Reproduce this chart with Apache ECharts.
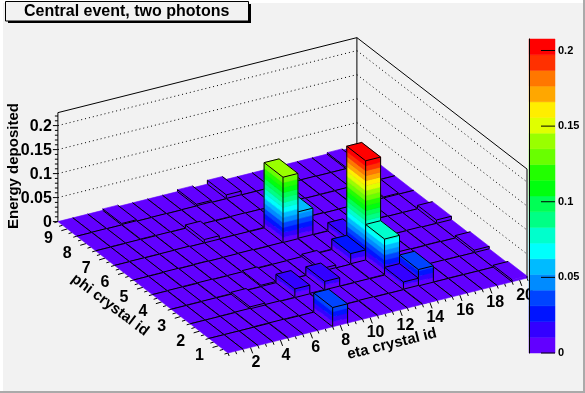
<!DOCTYPE html>
<html>
<head>
<meta charset="utf-8">
<title>Central event, two photons</title>
<style>
  html, body { margin: 0; padding: 0; background: #f2f2f2; }
  #chart { width: 585px; height: 393px; }
</style>
<script src="https://cdn.jsdelivr.net/npm/echarts@6/dist/echarts.min.js"></script>
</head>
<body>
<div id="chart"></div>
<script>
// energy per crystal, one row per phi id, one column per eta id (1..20)
const phi1 = [0, 0, 0, 0, 0.001, 0, 0, 0.04, 0, 0, 0.001, 0, 0, 0.001, 0, 0, 0, 0, 0, 0.004];
const phi2 = [0, 0, 0, 0.001, 0, 0.001, 0, 0, 0.001, 0.0005, 0, 0.0005, 0, 0.016, 0.034, 0, 0.0005, 0, 0, 0];
const phi3 = [0, 0, 0.0005, 0, 0.004, 0, 0.0005, 0.018, 0, 0.018, 0.0005, 0, 0.001, 0.075, 0.0005, 0.001, 0, 0.0005, 0, 0.005];
const phi4 = [0, 0.0005, 0, 0.001, 0, 0.0005, 0.003, 0, 0.0005, 0.001, 0.006, 0, 0.022, 0.2076, 0.001, 0, 0.0005, 0.001, 0, 0];
const phi5 = [0, 0, 0.001, 0, 0.0005, 0, 0.0005, 0.001, 0, 0.0005, 0, 0.001, 0.0005, 0.018, 0, 0.001, 0.0005, 0, 0, 0.007];
const phi6 = [0, 0.0005, 0, 0.0005, 0.001, 0, 0, 0.0005, 0.0005, 0, 0.136, 0.056, 0.001, 0.0005, 0, 0.0005, 0.001, 0, 0, 0];
const phi7 = [0, 0, 0.0005, 0, 0.0005, 0, 0.007, 0.0005, 0, 0.001, 0.0005, 0, 0.0005, 0.001, 0, 0, 0.0005, 0, 0.002, 0];
const phi8 = [0, 0.0005, 0, 0.001, 0, 0.0005, 0, 0.0005, 0.001, 0, 0.0005, 0, 0, 0.0005, 0, 0.0005, 0, 0, 0, 0];
const phi9 = [0, 0, 0, 0.003, 0, 0, 0, 0, 0.004, 0, 0.008, 0, 0, 0, 0, 0, 0, 0, 0.003, 0];
const energyRows = [phi1, phi2, phi3, phi4, phi5, phi6, phi7, phi8, phi9];

const zTicks = [0, 0.05, 0.1, 0.15, 0.2];
const zTickLabels = ['0', '0.05', '0.1', '0.15', '0.2'];
const etaTicks = [2, 4, 6, 8, 10, 12, 14, 16, 18, 20];
const phiTicks = [1, 2, 3, 4, 5, 6, 7, 8, 9];

// 20 contour levels, bottom to top
const palette = [
  '#6200ff', '#3300ff', '#0014ff', '#0044ff', '#008bff', '#00bbff', '#00fffc', '#00ffcc', '#00ff85', '#00ff55',
  '#00ff0e', '#22ff00', '#69ff00', '#99ff00', '#e0ff00', '#ffee00', '#ffa700', '#ff7700', '#ff3000', '#ff0000'
];
const zMax = 0.2076;
const zWall = 0.227;
const levelStep = zMax / palette.length;

const FONT = '"Liberation Sans", Arial, sans-serif';

// oblique view of the lego box: page position of eta/phi bin edges and z
const origin = [228, 353];
const etaVec = [14.95, -3.75];
const phiVec = [-18.9, -14.6];
const zScale = 480;

// i, j are bin edges counted from the front corner
function place(api, i, j, z) {
  return api.coord([
    origin[0] + i * etaVec[0] + j * phiVec[0],
    origin[1] + i * etaVec[1] + j * phiVec[1] - z * zScale
  ]);
}
function seg(a, b, style) {
  return { type: 'line', shape: { x1: a[0], y1: a[1], x2: b[0], y2: b[1] }, style: Object.assign({ stroke: '#000', lineWidth: 1 }, style) };
}
function poly(points, fill) {
  return { type: 'polygon', shape: { points: points }, style: { fill: fill, stroke: fill, lineWidth: 0.6 } };
}
function label(text, p, size, rotation, align) {
  return {
    type: 'text', x: p[0], y: p[1], rotation: rotation || 0,
    style: { text: text, fill: '#000', font: 'bold ' + size + 'px ' + FONT, align: align || 'center', verticalAlign: 'middle' }
  };
}

// painter's order: far corner first
const cells = [];
for (let j = energyRows.length - 1; j >= 0; j--) {
  for (let i = energyRows[j].length - 1; i >= 0; i--) {
    cells.push([i, j, energyRows[j][i]]);
  }
}
const nEta = energyRows[0].length;
const nPhi = energyRows.length;

const renderCell = (params, api) => {
  const i = api.value(0), j = api.value(1), v = api.value(2);
  const children = [];
  for (let l = 0; l * levelStep < v; l++) {
    const lo = l * levelStep, hi = Math.min((l + 1) * levelStep, v);
    children.push(poly([place(api, i, j, lo), place(api, i, j + 1, lo), place(api, i, j + 1, hi), place(api, i, j, hi)], palette[l]));
    children.push(poly([place(api, i, j, lo), place(api, i + 1, j, lo), place(api, i + 1, j, hi), place(api, i, j, hi)], palette[l]));
  }
  const a = place(api, i, j, v), b = place(api, i + 1, j, v), c = place(api, i + 1, j + 1, v), d = place(api, i, j + 1, v);
  const level = Math.min(palette.length - 1, Math.floor(v / levelStep));
  children.push(poly([a, b, c, d], palette[level]));
  if (v > 0.003) {
    children.push(seg(place(api, i, j, 0), a));
    children.push(seg(place(api, i + 1, j, 0), b));
    children.push(seg(place(api, i, j + 1, 0), d));
  }
  // no black on the outer rim of the floor
  if (j > 0 || v > 0.01) children.push(seg(a, b));
  if (i > 0 || v > 0.01) children.push(seg(a, d));
  if (i < nEta - 1 || v > 0.01) children.push(seg(b, c));
  if (j < nPhi - 1 || v > 0.01) children.push(seg(d, c));
  return { type: 'group', children: children };
};

const renderWalls = (params, api) => {
  const z = api.value(0);
  const children = [];
  const left = place(api, 0, nPhi, z), back = place(api, nEta, nPhi, z), right = place(api, nEta, 0, z);
  if (z > 0) {
    children.push(seg(left, back, { lineDash: [1, 3] }));
    children.push(seg(back, right, { lineDash: [1, 3] }));
  }
  children.push(seg([left[0] - 5, left[1]], left));
  children.push(label(zTickLabels[params.dataIndex], [left[0] - 6, left[1] + 1], 16, 0, 'right'));
  return { type: 'group', children: children };
};

const renderFrame = (params, api) => {
  const children = [];
  const top = (i, j) => place(api, i, j, zWall);
  const low = (i, j) => place(api, i, j, 0);
  children.push(seg(low(0, nPhi), top(0, nPhi)));
  children.push(seg(low(nEta, nPhi), top(nEta, nPhi)));
  children.push(seg(low(nEta, 0), top(nEta, 0)));
  children.push(seg(top(0, nPhi), top(nEta, nPhi)));
  children.push(seg(top(nEta, nPhi), top(nEta, 0)));
  // minor ticks
  for (let n = 1; n <= 22; n++) {
    const p = place(api, 0, nPhi, n * 0.01);
    if (n % 5) children.push(seg([p[0] - 3, p[1]], p));
  }
  for (let n = 0; n <= 40; n++) {
    const p = low(n / 2, 0);
    const len = (n + 1) % 4 === 0 ? 6 : 3;
    children.push(seg(p, [p[0] + len * 0.38, p[1] + len]));
  }
  for (let n = 0; n <= 36; n++) {
    const p = low(0, n / 4);
    const len = (n + 2) % 4 === 0 ? 6 : 3.5;
    children.push(seg(p, [p[0] - len, p[1] + len * 0.3]));
  }
  return { type: 'group', children: children };
};

const renderEtaTick = (params, api) => {
  const p = place(api, api.value(0) - 0.5, 0, 0);
  return label(String(api.value(0)), [p[0] + 5.5, p[1] + 15.5], 16);
};
const renderPhiTick = (params, api) => {
  const p = place(api, 0, api.value(0) - 0.5, 0);
  return label(String(api.value(0)), [p[0] - 19, p[1] + 10], 16);
};
const renderAxisTitles = (params, api) => ({
  type: 'group',
  children: [
    label('Energy deposited', api.coord([14, 166]), 15, Math.PI / 2),
    label('phi crystal id', api.coord([110, 305]), 15, -37 * Math.PI / 180),
    label('eta crystal id', api.coord([392, 344]), 15, 14 * Math.PI / 180)
  ]
});
const renderBand = (params, api) => {
  const l = api.value(0);
  const a = api.coord([0, l * levelStep]), b = api.coord([1, (l + 1) * levelStep]);
  return { type: 'rect', shape: { x: a[0], y: b[1], width: b[0] - a[0], height: a[1] - b[1] }, style: { fill: palette[l], stroke: palette[l], lineWidth: 0.5 } };
};
// the palette ticks sit inside the colour bar, on top of the bands
const renderBarTick = (params, api) => {
  const p = api.coord([1, api.value(0)]);
  return seg([p[0] - 14, p[1]], p);
};

const myChart = echarts.init(document.getElementById('chart'));
const option = {
  animation: false,
  backgroundColor: '#f2f2f2',
  title: {
    text: 'Central event, two photons',
    left: 24, top: 3, padding: 0,
    textStyle: { fontFamily: FONT, fontWeight: 'bold', fontSize: 16, color: '#000', lineHeight: 18 }
  },
  graphic: [
    { type: 'rect', z: -1, shape: { x: 0, y: 0, width: 585, height: 3 }, style: { fill: '#fff' } },
    { type: 'rect', z: -1, shape: { x: 0, y: 0, width: 3, height: 393 }, style: { fill: '#fff' } },
    { type: 'rect', z: -1, shape: { x: 583, y: 0, width: 2, height: 393 }, style: { fill: '#aaa' } },
    { type: 'rect', z: -1, shape: { x: 0, y: 391, width: 585, height: 2 }, style: { fill: '#aaa' } },
    { type: 'rect', z: 5, shape: { x: 8, y: 4, width: 243, height: 19 }, style: { fill: '#000' } },
    { type: 'rect', z: 5, shape: { x: 5.5, y: 1.5, width: 243, height: 19.5 }, style: { fill: '#f2f2f2', stroke: '#000', lineWidth: 1 } }
  ],
  grid: [
    { left: 0, top: 0, width: 585, height: 393 },
    { left: 529, top: 39, width: 26, height: 314 }
  ],
  xAxis: [
    { type: 'value', gridIndex: 0, min: 0, max: 585, show: false },
    { type: 'value', gridIndex: 1, min: 0, max: 1, show: false }
  ],
  yAxis: [
    { type: 'value', gridIndex: 0, min: 0, max: 393, inverse: true, show: false },
    {
      type: 'value', gridIndex: 1, min: 0, max: zMax, position: 'right', z: 10,
      splitLine: { show: false },
      axisLine: { show: true, lineStyle: { color: '#000', width: 1 } },
      axisTick: { show: false },
      axisLabel: {
        customValues: zTicks, margin: 3, color: '#000', fontFamily: FONT, fontWeight: 'bold', fontSize: 11,
        formatter: (v) => String(v)
      }
    }
  ],
  series: [
    { type: 'custom', xAxisIndex: 0, yAxisIndex: 0, z: 1, silent: true, clip: false, renderItem: renderFrame, data: [[0]] },
    { type: 'custom', xAxisIndex: 0, yAxisIndex: 0, z: 1, silent: true, clip: false, renderItem: renderWalls, data: zTicks.map((z) => [z]) },
    { type: 'custom', xAxisIndex: 0, yAxisIndex: 0, z: 2, silent: true, clip: false, renderItem: renderCell, data: cells },
    { type: 'custom', xAxisIndex: 0, yAxisIndex: 0, z: 3, silent: true, clip: false, renderItem: renderEtaTick, data: etaTicks.map((t) => [t]) },
    { type: 'custom', xAxisIndex: 0, yAxisIndex: 0, z: 3, silent: true, clip: false, renderItem: renderPhiTick, data: phiTicks.map((t) => [t]) },
    { type: 'custom', xAxisIndex: 0, yAxisIndex: 0, z: 3, silent: true, clip: false, renderItem: renderAxisTitles, data: [[0]] },
    { type: 'custom', xAxisIndex: 1, yAxisIndex: 1, z: 6, silent: true, clip: false, renderItem: renderBand, data: palette.map((c, l) => [l]) },
    { type: 'custom', xAxisIndex: 1, yAxisIndex: 1, z: 7, silent: true, clip: false, renderItem: renderBarTick, data: zTicks.map((z) => [z]) }
  ]
};
myChart.setOption(option);
</script>
</body>
</html>
